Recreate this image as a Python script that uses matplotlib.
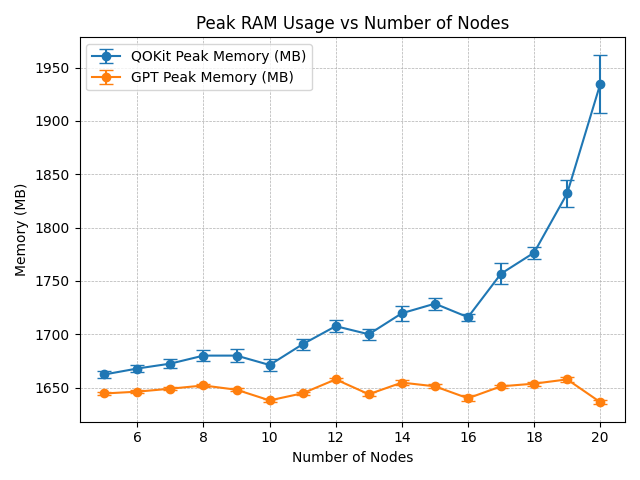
import matplotlib
matplotlib.use('Agg')
import matplotlib.pyplot as plt

nodes = [5, 6, 7, 8, 9, 10, 11, 12, 13, 14, 15, 16, 17, 18, 19, 20]

# QOKit peak memory (MB) + std
qokit_mem = [1662.3, 1667.9, 1672.5, 1680, 1680, 1671.2, 1690.7, 1707.6, 1700, 1719.7,
             1728.7, 1716, 1756.8, 1776.5, 1832, 1934.5]
qokit_err = [3.4, 3.2, 4, 5.4, 6.3, 5.7, 5, 5.9, 5, 7.2, 5.6, 3.2, 10, 5.6, 13, 27.5]

# GPT peak memory (MB) + std
gpt_mem = [1644.5, 1646.2, 1649, 1652, 1648, 1638, 1644.7, 1657.7, 1643.8, 1654.7,
           1651.2, 1640, 1651.2, 1653.7, 1657.7, 1636.4]
gpt_err = [1.5, 1.5, 1.5, 1.5, 1.5, 1.5, 1.5, 1.5, 2, 2, 2, 3, 1.5, 2, 2, 2]

fig, ax = plt.subplots(figsize=(6.4, 4.8))
ax.errorbar(nodes, qokit_mem, yerr=qokit_err, marker='o', capsize=5, label='QOKit Peak Memory (MB)')
ax.errorbar(nodes, gpt_mem, yerr=gpt_err, marker='o', capsize=5, label='GPT Peak Memory (MB)')
ax.set_xlabel('Number of Nodes')
ax.set_ylabel('Memory (MB)')
ax.set_title('Peak RAM Usage vs Number of Nodes')
ax.grid(True, linestyle='--', linewidth=0.5)
ax.legend(loc='upper left')
plt.tight_layout()
plt.savefig('out.png', dpi=100)
